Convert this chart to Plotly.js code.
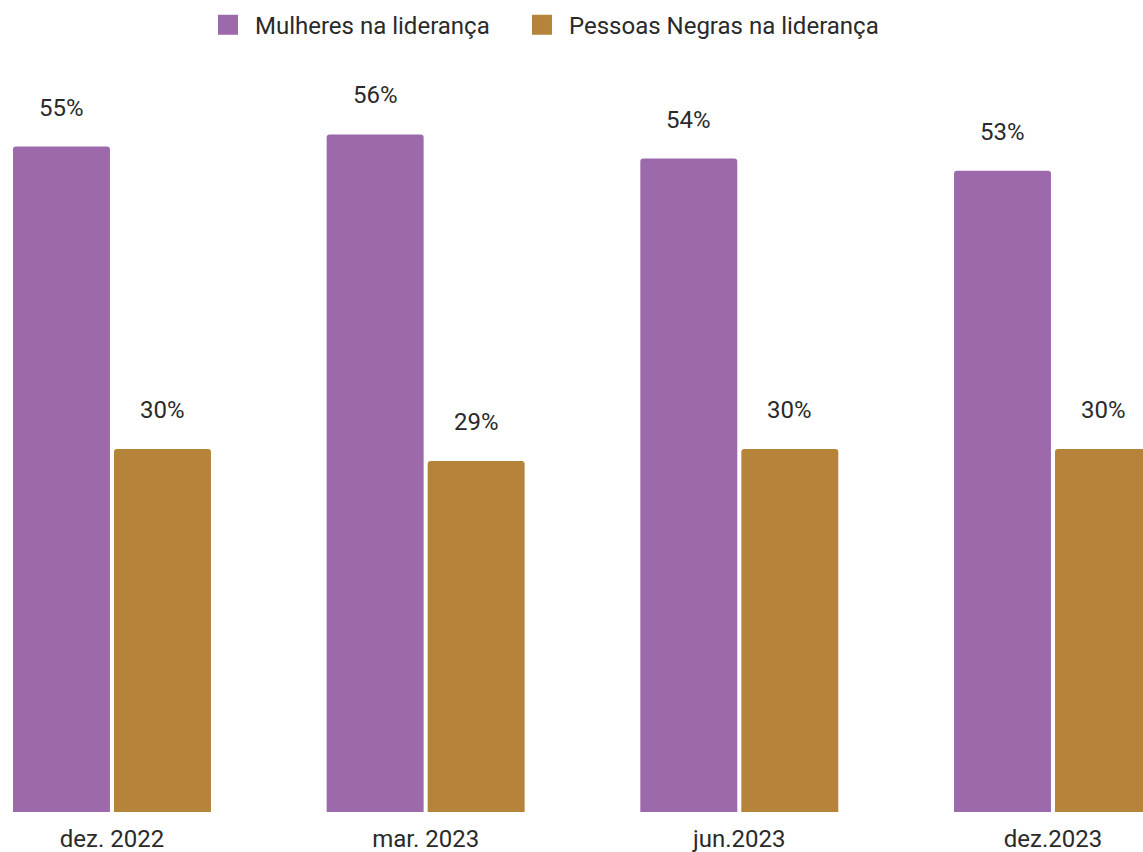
<!DOCTYPE html>
<html>
<head>
<meta charset="utf-8">
<script src="https://cdn.plot.ly/plotly-3.0.1.min.js"></script>
<style>
  html, body { margin: 0; padding: 0; background: #ffffff; }
  #chart { width: 1143px; height: 852px; }
</style>
</head>
<body>
<div id="chart"></div>
<script>
// ---- data ----
const categories = ["dez. 2022", "mar. 2023", "jun.2023", "dez.2023"];
const seriesNames = ["Mulheres na liderança", "Pessoas Negras na liderança"];
const mulheres = [55, 56, 54, 53];
const pessoasNegras = [30, 29, 30, 30];
const seriesValues = [mulheres, pessoasNegras];

// ---- style ----
const colors = ["#9c69aa", "#b5843a"];
const fontFamily = "Roboto, 'Noto Sans', Arial, sans-serif";
const textColor = "#2a2a2a";
const legendIds = ["legend", "legend2"];

const traces = seriesValues.map((vals, i) => ({
  type: "bar",
  name: seriesNames[i],
  x: categories,
  y: vals,
  legend: legendIds[i],
  marker: { color: colors[i], cornerradius: 3 },
  hoverinfo: "x+y+name"
}));

// value labels, placed above each bar
const annotations = [];
const barOffset = 50.5; // px from category center to bar center
seriesValues.forEach((vals, i) => {
  vals.forEach((v, j) => {
    annotations.push({
      x: categories[j],
      y: v,
      xref: "x",
      yref: "y",
      text: v + "%",
      showarrow: false,
      xshift: i === 0 ? -barOffset : barOffset,
      yshift: 39,
      yanchor: "middle",
      font: { family: fontFamily, size: 24, color: textColor }
    });
  });
});

const legendBase = {
  orientation: "h",
  y: 1.0465,
  yanchor: "middle",
  xanchor: "left",
  font: { family: fontFamily, size: 24, color: textColor },
  bgcolor: "rgba(0,0,0,0)"
};

const layout = {
  width: 1143,
  height: 852,
  margin: { l: 0, r: 0, t: 60, b: 40, pad: 0 },
  paper_bgcolor: "#ffffff",
  plot_bgcolor: "#ffffff",
  barmode: "group",
  bargap: 0.356,
  bargroupgap: 0.04,
  font: { family: fontFamily, color: textColor },
  xaxis: {
    type: "category",
    range: [-0.357, 3.287],
    showgrid: false,
    zeroline: false,
    showline: false,
    ticks: "",
    ticklabelstandoff: 10,
    tickfont: { family: fontFamily, size: 24, color: textColor },
    fixedrange: true
  },
  yaxis: {
    range: [0, 62.15],
    visible: false,
    showgrid: false,
    zeroline: false,
    fixedrange: true
  },
  showlegend: true,
  legend: Object.assign({}, legendBase, { x: 0.1881 }),
  legend2: Object.assign({}, legendBase, { x: 0.4628 }),
  annotations: annotations
};

Plotly.newPlot("chart", traces, layout, { displayModeBar: false, staticPlot: true }).then(() => {
  // enlarge the legend swatches to match the reference squares
  document.querySelectorAll(".legendpoints path").forEach(p => {
    p.setAttribute("d", "M3,10H-17V-10H3Z");
  });
});
</script>
</body>
</html>
